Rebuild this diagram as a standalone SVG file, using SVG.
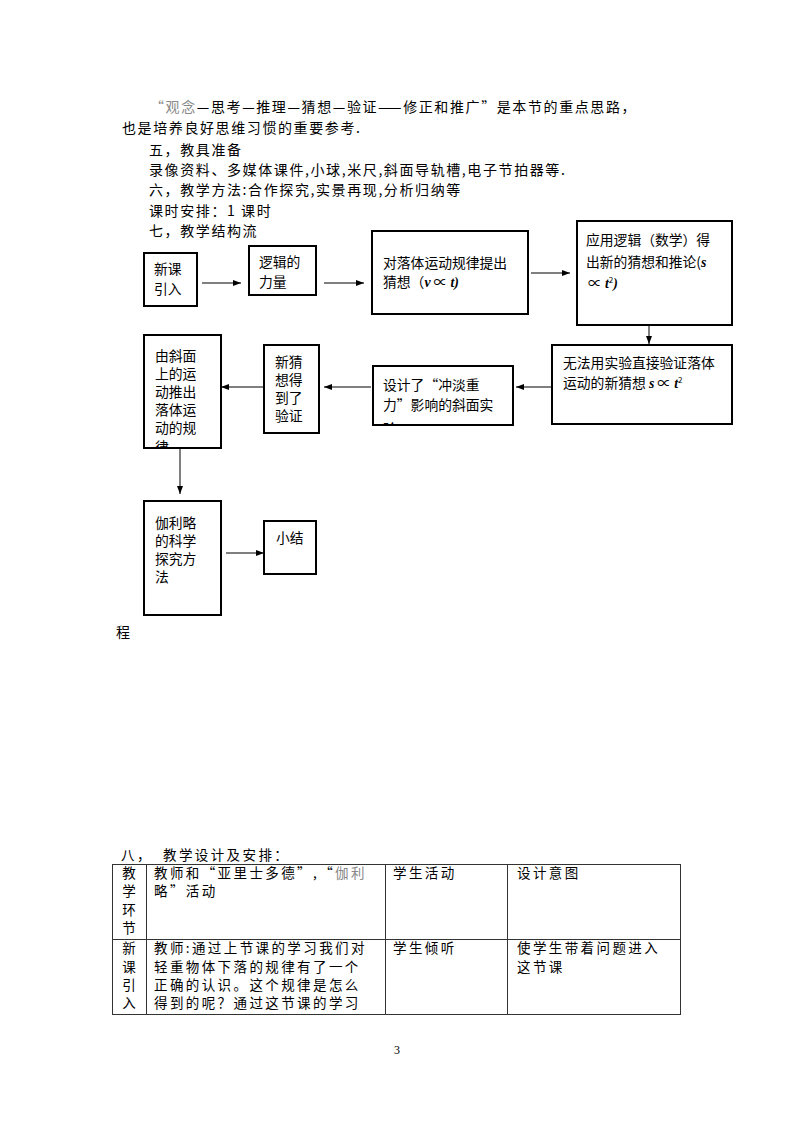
<svg xmlns="http://www.w3.org/2000/svg" width="794" height="1123" viewBox="0 0 794 1123">
<style>
.p{font-family:"Noto Sans CJK SC","Liberation Sans",sans-serif;font-size:14px;letter-spacing:1.6px;fill:#000}
.t{font-family:"Noto Sans CJK SC","Liberation Sans",sans-serif;font-size:13.5px;letter-spacing:2.4px;fill:#000}
.b{font-family:"Noto Sans CJK SC","Liberation Sans",sans-serif;font-size:13.8px;fill:#000}
.m{font-family:"Liberation Serif",serif;font-weight:bold;font-style:italic}
.g{fill:#888}
.box{fill:#fff;stroke:#000;stroke-width:2}
.ln{stroke:#000;stroke-width:1;fill:none}
.tbl{stroke:#333;stroke-width:1;fill:none}
</style>
<defs>
<marker id="ah" viewBox="0 0 8 6" refX="8" refY="3" markerWidth="8" markerHeight="6" markerUnits="userSpaceOnUse" orient="auto">
<path d="M0,0 L8,3 L0,6 Z" fill="#000"/>
</marker>
<clipPath id="c6"><rect x="374" y="367" width="138" height="57"/></clipPath>
<clipPath id="c8"><rect x="145" y="336" width="75" height="111"/></clipPath>
</defs>
<rect width="794" height="1123" fill="#fff"/>

<g id="intro">
<text class="p" x="150" y="112"><tspan class="g">“观念</tspan>—思考—推理—猜想—验证——修正和推广”是本节的重点思路，</text>
<text class="p" x="122" y="133">也是培养良好思维习惯的重要参考.</text>
<text class="p" x="149" y="155">五，教具准备</text>
<text class="p" x="149" y="175">录像资料、多媒体课件,小球,米尺,斜面导轨槽,电子节拍器等.</text>
<text class="p" x="149" y="195">六，教学方法:合作探究,实景再现,分析归纳等</text>
<text class="p" x="149" y="216">课时安排：1 课时</text>
<text class="p" x="149" y="236">七，教学结构流</text>
<text class="p" x="116" y="637">程</text>
</g>

<g id="connectors">
<line class="ln" x1="202" y1="283" x2="241" y2="283" marker-end="url(#ah)"/>
<line class="ln" x1="324" y1="283" x2="364" y2="283" marker-end="url(#ah)"/>
<line class="ln" x1="531" y1="273" x2="570" y2="273" marker-end="url(#ah)"/>
<line class="ln" x1="649" y1="326" x2="649" y2="344" marker-end="url(#ah)"/>
<line class="ln" x1="551" y1="387" x2="516" y2="387" marker-end="url(#ah)"/>
<line class="ln" x1="371" y1="387" x2="324" y2="387" marker-end="url(#ah)"/>
<line class="ln" x1="263" y1="387" x2="221" y2="387" marker-end="url(#ah)"/>
<line class="ln" x1="180" y1="449" x2="180" y2="494" marker-end="url(#ah)"/>
<line class="ln" x1="226" y1="553" x2="264" y2="553" marker-end="url(#ah)"/>
</g>

<g id="n1"><rect class="box" x="144" y="253" width="53" height="53"/>
<text class="b" x="154" y="274">新课</text><text class="b" x="154" y="294">引入</text></g>

<g id="n2"><rect class="box" x="249" y="246" width="67" height="49"/>
<text class="b" x="259" y="267">逻辑的</text><text class="b" x="259" y="287">力量</text></g>

<g id="n3"><rect class="box" x="372" y="231" width="156" height="83"/>
<text class="b" x="383" y="268">对落体运动规律提出</text>
<text class="b" x="383" y="287">猜想（<tspan class="m">v</tspan> ∝ <tspan class="m">t)</tspan></text></g>

<g id="n4"><rect class="box" x="577" y="221" width="155" height="104"/>
<text class="b" x="586" y="245">应用逻辑（数学）得</text>
<text class="b" x="586" y="267">出新的猜想和推论(<tspan class="m">s</tspan></text>
<text class="b" x="588" y="288">∝ <tspan class="m">t</tspan><tspan font-size="8" dy="-5">2</tspan><tspan class="m" dy="5">)</tspan></text></g>

<g id="n5"><rect class="box" x="552" y="345" width="180" height="79"/>
<text class="b" x="563" y="368">无法用实验直接验证落体</text>
<text class="b" x="563" y="388">运动的新猜想 <tspan class="m">s</tspan> ∝ <tspan class="m">t</tspan><tspan font-size="8" dy="-5">2</tspan></text></g>

<g id="n6"><rect class="box" x="373" y="366" width="140" height="59"/>
<g clip-path="url(#c6)">
<text class="b" x="383" y="390">设计了“冲淡重</text>
<text class="b" x="383" y="410">力”影响的斜面实</text>
<text class="b" x="383" y="434">验</text></g></g>

<g id="n7"><rect class="box" x="264" y="345" width="55" height="88"/>
<text class="b" x="275" y="367">新猜</text><text class="b" x="275" y="385">想得</text>
<text class="b" x="275" y="403">到了</text><text class="b" x="275" y="421">验证</text></g>

<g id="n8"><rect class="box" x="144" y="335" width="77" height="113"/>
<g clip-path="url(#c8)">
<text class="b" x="155" y="361">由斜面</text><text class="b" x="155" y="379">上的运</text>
<text class="b" x="155" y="397">动推出</text><text class="b" x="155" y="415">落体运</text>
<text class="b" x="155" y="433">动的规</text><text class="b" x="155" y="452">律</text></g></g>

<g id="n9"><rect class="box" x="144" y="501" width="77" height="114"/>
<text class="b" x="155" y="528">伽利略</text><text class="b" x="155" y="546">的科学</text>
<text class="b" x="155" y="564">探究方</text><text class="b" x="155" y="582">法</text></g>

<g id="n10"><rect class="box" x="264" y="521" width="52" height="53"/>
<text class="b" x="276" y="543">小结</text></g>

<g id="table">
<text class="t" x="121" y="860">八，</text>
<text class="t" x="163" y="860">教学设计及安排：</text>
<rect class="tbl" x="112.5" y="864.5" width="568" height="150"/>
<line class="tbl" x1="112" y1="939.5" x2="681" y2="939.5"/>
<line class="tbl" x1="146.5" y1="864" x2="146.5" y2="1015"/>
<line class="tbl" x1="385.5" y1="864" x2="385.5" y2="1015"/>
<line class="tbl" x1="507.5" y1="864" x2="507.5" y2="1015"/>
<g class="t" text-anchor="middle" style="letter-spacing:0">
<text x="129" y="878">教</text><text x="129" y="896">学</text><text x="129" y="915">环</text><text x="129" y="933">节</text>
<text x="129" y="953">新</text><text x="129" y="972">课</text><text x="129" y="990">引</text><text x="129" y="1008">入</text>
</g>
<text class="t" x="154" y="878">教师和“亚里士多德”,“<tspan class="g">伽利</tspan></text>
<text class="t" x="154" y="896">略”活动</text>
<text class="t" x="393" y="878">学生活动</text>
<text class="t" x="517" y="878">设计意图</text>
<text class="t" x="154" y="953">教师:通过上节课的学习我们对</text>
<text class="t" x="154" y="972">轻重物体下落的规律有了一个</text>
<text class="t" x="154" y="990">正确的认识。这个规律是怎么</text>
<text class="t" x="154" y="1008">得到的呢？通过这节课的学习</text>
<text class="t" x="393" y="953">学生倾听</text>
<text class="t" x="517" y="953">使学生带着问题进入</text>
<text class="t" x="517" y="972">这节课</text>
</g>
<text x="397" y="1054" text-anchor="middle" font-family="Liberation Serif, serif" font-size="12">3</text>
</svg>
